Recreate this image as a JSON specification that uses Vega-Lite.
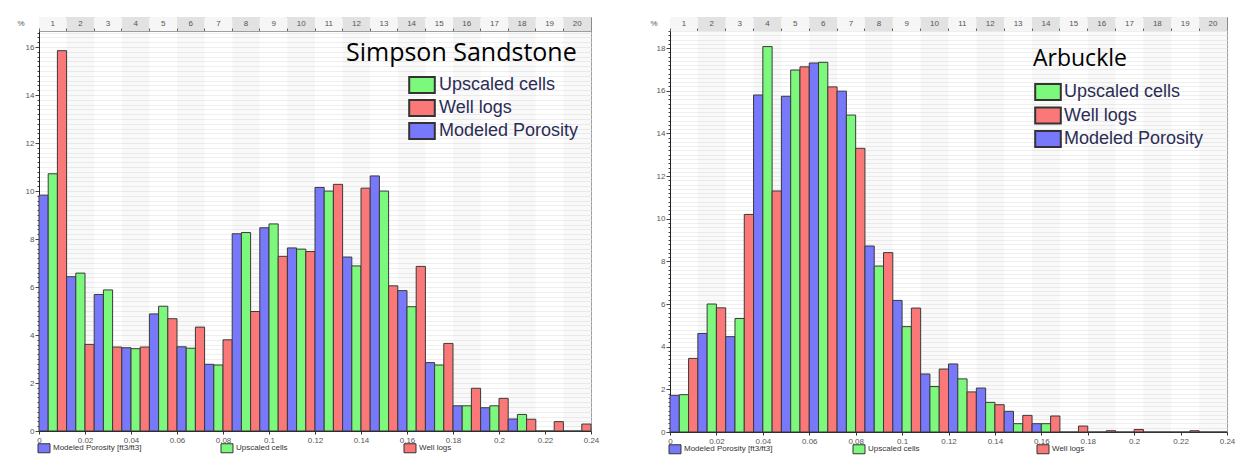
{
  "$schema": "https://vega.github.io/schema/vega-lite/v6.json",
  "padding": {"left": 16, "top": 16, "right": 0, "bottom": 0},
  "config": {"font": "Liberation Sans", "view": {"stroke": null}},
  "datasets": {
    "bins": [
      {"bin": 1, "lo": 0, "hi": 0.012}, {"bin": 2, "lo": 0.012, "hi": 0.024}, {"bin": 3, "lo": 0.024, "hi": 0.036},
      {"bin": 4, "lo": 0.036, "hi": 0.048}, {"bin": 5, "lo": 0.048, "hi": 0.06}, {"bin": 6, "lo": 0.06, "hi": 0.072},
      {"bin": 7, "lo": 0.072, "hi": 0.084}, {"bin": 8, "lo": 0.084, "hi": 0.096}, {"bin": 9, "lo": 0.096, "hi": 0.108},
      {"bin": 10, "lo": 0.108, "hi": 0.12}, {"bin": 11, "lo": 0.12, "hi": 0.132}, {"bin": 12, "lo": 0.132, "hi": 0.144},
      {"bin": 13, "lo": 0.144, "hi": 0.156}, {"bin": 14, "lo": 0.156, "hi": 0.168}, {"bin": 15, "lo": 0.168, "hi": 0.18},
      {"bin": 16, "lo": 0.18, "hi": 0.192}, {"bin": 17, "lo": 0.192, "hi": 0.204}, {"bin": 18, "lo": 0.204, "hi": 0.216},
      {"bin": 19, "lo": 0.216, "hi": 0.228}, {"bin": 20, "lo": 0.228, "hi": 0.24}
    ],
    "simpson": [
      {"bin": 1, "series": "Modeled Porosity", "value": 9.83}, {"bin": 1, "series": "Upscaled cells", "value": 10.72}, {"bin": 1, "series": "Well logs", "value": 15.85},
      {"bin": 2, "series": "Modeled Porosity", "value": 6.43}, {"bin": 2, "series": "Upscaled cells", "value": 6.58}, {"bin": 2, "series": "Well logs", "value": 3.61},
      {"bin": 3, "series": "Modeled Porosity", "value": 5.69}, {"bin": 3, "series": "Upscaled cells", "value": 5.88}, {"bin": 3, "series": "Well logs", "value": 3.5},
      {"bin": 4, "series": "Modeled Porosity", "value": 3.47}, {"bin": 4, "series": "Upscaled cells", "value": 3.43}, {"bin": 4, "series": "Well logs", "value": 3.5},
      {"bin": 5, "series": "Modeled Porosity", "value": 4.88}, {"bin": 5, "series": "Upscaled cells", "value": 5.2}, {"bin": 5, "series": "Well logs", "value": 4.68},
      {"bin": 6, "series": "Modeled Porosity", "value": 3.51}, {"bin": 6, "series": "Upscaled cells", "value": 3.45}, {"bin": 6, "series": "Well logs", "value": 4.33},
      {"bin": 7, "series": "Modeled Porosity", "value": 2.78}, {"bin": 7, "series": "Upscaled cells", "value": 2.75}, {"bin": 7, "series": "Well logs", "value": 3.8},
      {"bin": 8, "series": "Modeled Porosity", "value": 8.22}, {"bin": 8, "series": "Upscaled cells", "value": 8.27}, {"bin": 8, "series": "Well logs", "value": 4.98},
      {"bin": 9, "series": "Modeled Porosity", "value": 8.47}, {"bin": 9, "series": "Upscaled cells", "value": 8.63}, {"bin": 9, "series": "Well logs", "value": 7.28},
      {"bin": 10, "series": "Modeled Porosity", "value": 7.63}, {"bin": 10, "series": "Upscaled cells", "value": 7.58}, {"bin": 10, "series": "Well logs", "value": 7.48},
      {"bin": 11, "series": "Modeled Porosity", "value": 10.15}, {"bin": 11, "series": "Upscaled cells", "value": 10.0}, {"bin": 11, "series": "Well logs", "value": 10.28},
      {"bin": 12, "series": "Modeled Porosity", "value": 7.25}, {"bin": 12, "series": "Upscaled cells", "value": 6.88}, {"bin": 12, "series": "Well logs", "value": 10.12},
      {"bin": 13, "series": "Modeled Porosity", "value": 10.63}, {"bin": 13, "series": "Upscaled cells", "value": 10.0}, {"bin": 13, "series": "Well logs", "value": 6.05},
      {"bin": 14, "series": "Modeled Porosity", "value": 5.85}, {"bin": 14, "series": "Upscaled cells", "value": 5.18}, {"bin": 14, "series": "Well logs", "value": 6.86},
      {"bin": 15, "series": "Modeled Porosity", "value": 2.85}, {"bin": 15, "series": "Upscaled cells", "value": 2.75}, {"bin": 15, "series": "Well logs", "value": 3.65},
      {"bin": 16, "series": "Modeled Porosity", "value": 1.05}, {"bin": 16, "series": "Upscaled cells", "value": 1.05}, {"bin": 16, "series": "Well logs", "value": 1.78},
      {"bin": 17, "series": "Modeled Porosity", "value": 0.97}, {"bin": 17, "series": "Upscaled cells", "value": 1.05}, {"bin": 17, "series": "Well logs", "value": 1.36},
      {"bin": 18, "series": "Modeled Porosity", "value": 0.5}, {"bin": 18, "series": "Upscaled cells", "value": 0.69}, {"bin": 18, "series": "Well logs", "value": 0.49},
      {"bin": 19, "series": "Modeled Porosity", "value": 0}, {"bin": 19, "series": "Upscaled cells", "value": 0}, {"bin": 19, "series": "Well logs", "value": 0.39},
      {"bin": 20, "series": "Modeled Porosity", "value": 0}, {"bin": 20, "series": "Upscaled cells", "value": 0}, {"bin": 20, "series": "Well logs", "value": 0.29}
    ],
    "arbuckle": [
      {"bin": 1, "series": "Modeled Porosity", "value": 1.72}, {"bin": 1, "series": "Upscaled cells", "value": 1.75}, {"bin": 1, "series": "Well logs", "value": 3.45},
      {"bin": 2, "series": "Modeled Porosity", "value": 4.62}, {"bin": 2, "series": "Upscaled cells", "value": 6.0}, {"bin": 2, "series": "Well logs", "value": 5.82},
      {"bin": 3, "series": "Modeled Porosity", "value": 4.47}, {"bin": 3, "series": "Upscaled cells", "value": 5.32}, {"bin": 3, "series": "Well logs", "value": 10.2},
      {"bin": 4, "series": "Modeled Porosity", "value": 15.8}, {"bin": 4, "series": "Upscaled cells", "value": 18.07}, {"bin": 4, "series": "Well logs", "value": 11.3},
      {"bin": 5, "series": "Modeled Porosity", "value": 15.74}, {"bin": 5, "series": "Upscaled cells", "value": 16.97}, {"bin": 5, "series": "Well logs", "value": 17.12},
      {"bin": 6, "series": "Modeled Porosity", "value": 17.3}, {"bin": 6, "series": "Upscaled cells", "value": 17.33}, {"bin": 6, "series": "Well logs", "value": 16.18},
      {"bin": 7, "series": "Modeled Porosity", "value": 15.98}, {"bin": 7, "series": "Upscaled cells", "value": 14.86}, {"bin": 7, "series": "Well logs", "value": 13.3},
      {"bin": 8, "series": "Modeled Porosity", "value": 8.72}, {"bin": 8, "series": "Upscaled cells", "value": 7.78}, {"bin": 8, "series": "Well logs", "value": 8.41},
      {"bin": 9, "series": "Modeled Porosity", "value": 6.17}, {"bin": 9, "series": "Upscaled cells", "value": 4.94}, {"bin": 9, "series": "Well logs", "value": 5.81},
      {"bin": 10, "series": "Modeled Porosity", "value": 2.72}, {"bin": 10, "series": "Upscaled cells", "value": 2.13}, {"bin": 10, "series": "Well logs", "value": 2.95},
      {"bin": 11, "series": "Modeled Porosity", "value": 3.19}, {"bin": 11, "series": "Upscaled cells", "value": 2.49}, {"bin": 11, "series": "Well logs", "value": 1.88},
      {"bin": 12, "series": "Modeled Porosity", "value": 2.06}, {"bin": 12, "series": "Upscaled cells", "value": 1.39}, {"bin": 12, "series": "Well logs", "value": 1.28},
      {"bin": 13, "series": "Modeled Porosity", "value": 0.97}, {"bin": 13, "series": "Upscaled cells", "value": 0.39}, {"bin": 13, "series": "Well logs", "value": 0.78},
      {"bin": 14, "series": "Modeled Porosity", "value": 0.39}, {"bin": 14, "series": "Upscaled cells", "value": 0.39}, {"bin": 14, "series": "Well logs", "value": 0.75},
      {"bin": 15, "series": "Modeled Porosity", "value": 0}, {"bin": 15, "series": "Upscaled cells", "value": 0}, {"bin": 15, "series": "Well logs", "value": 0.28},
      {"bin": 16, "series": "Modeled Porosity", "value": 0}, {"bin": 16, "series": "Upscaled cells", "value": 0}, {"bin": 16, "series": "Well logs", "value": 0.06},
      {"bin": 17, "series": "Modeled Porosity", "value": 0}, {"bin": 17, "series": "Upscaled cells", "value": 0}, {"bin": 17, "series": "Well logs", "value": 0.12},
      {"bin": 18, "series": "Modeled Porosity", "value": 0}, {"bin": 18, "series": "Upscaled cells", "value": 0}, {"bin": 18, "series": "Well logs", "value": 0},
      {"bin": 19, "series": "Modeled Porosity", "value": 0}, {"bin": 19, "series": "Upscaled cells", "value": 0}, {"bin": 19, "series": "Well logs", "value": 0.06},
      {"bin": 20, "series": "Modeled Porosity", "value": 0}, {"bin": 20, "series": "Upscaled cells", "value": 0}, {"bin": 20, "series": "Well logs", "value": 0}
    ]
  },
  "hconcat": [
    {
      "vconcat": [
        {
          "width": 552, "height": 14,
          "data": {"name": "bins"},
          "view": {"stroke": "#8a8a8a"},
          "layer": [
            {"mark": {"type": "rect"},
             "encoding": {
               "x": {"field": "bin", "type": "ordinal", "scale": {"paddingInner": 0, "paddingOuter": 0},
                     "axis": {"labels": false, "title": null, "domainColor": "#666", "tickColor": "#666", "tickSize": -3, "bandPosition": 0}},
               "fill": {"condition": {"test": "datum.bin % 2 == 0", "value": "#e2e2e2"}, "value": "#f6f6f6"}}},
            {"mark": {"type": "text", "fontSize": 8, "color": "#555"},
             "encoding": {"x": {"field": "bin", "type": "ordinal"}, "text": {"field": "bin"}}}
          ]
        },
        {
          "width": 552, "height": 400,
          "view": {"stroke": "#a0a0a0"},
          "resolve": {"scale": {"x": "independent", "color": "independent"}, "axis": {"x": "independent"}, "legend": {"color": "independent"}},
          "layer": [
            {"data": {"name": "bins"},
             "mark": {"type": "rect", "color": "#000000"},
             "encoding": {
               "x": {"field": "lo", "type": "quantitative", "scale": {"domain": [0, 0.24], "nice": false, "zero": false},
                     "axis": {"values": [0, 0.02, 0.04, 0.06, 0.08, 0.1, 0.12, 0.14, 0.16, 0.18, 0.2, 0.22, 0.24], "format": ".2~f", "title": null,
                              "labelFontSize": 8, "labelColor": "#555", "tickSize": 3, "tickColor": "#333", "domainColor": "#222", "grid": false,
                              "labelFlush": false, "labelOverlap": false, "labelPadding": 2}},
               "x2": {"field": "hi"},
               "opacity": {"condition": {"test": "datum.bin % 2 == 0", "value": 0.025}, "value": 0}}},
            {"data": {"name": "simpson"},
             "mark": {"type": "bar", "stroke": "#3a3a3a", "strokeWidth": 1},
             "encoding": {
               "x": {"field": "bin", "type": "ordinal", "scale": {"paddingInner": 0, "paddingOuter": 0}, "axis": null},
               "xOffset": {"field": "series", "type": "nominal", "scale": {"domain": ["Modeled Porosity", "Upscaled cells", "Well logs"], "paddingInner": 0, "paddingOuter": 0}},
               "y": {"field": "value", "type": "quantitative", "scale": {"domain": [0, 16.67], "nice": false},
                     "axis": {"title": "%", "titleAngle": 0, "titleX": -22, "titleY": -8, "titleAlign": "left", "titleBaseline": "middle", "titleFontSize": 8, "titleFontWeight": "normal", "titleColor": "#555",
                              "tickCount": 80, "grid": true, "gridColor": "#efefef", "labelExpr": "datum.value % 2 == 0 ? '' + datum.value : ''",
                              "tickSize": {"condition": {"test": "datum.value % 2 == 0", "value": 4}, "value": 2},
                              "labelOverlap": false, "labelFlush": false, "domainColor": "#222", "tickColor": "#444", "labelFontSize": 8, "labelColor": "#555", "labelPadding": 1}},
               "color": {"field": "series", "type": "nominal",
                         "scale": {"domain": ["Modeled Porosity", "Upscaled cells", "Well logs"], "range": ["#7878fa", "#7cf87c", "#fa7878"]},
                         "legend": {"orient": "none", "legendX": 0, "legendY": 412, "direction": "horizontal", "columns": 3, "gridAlign": "all", "columnPadding": 77,
                                    "title": null, "labelFontSize": 8, "labelColor": "#333", "symbolType": "M-1.33,-1H1.33V1H-1.33Z", "symbolSize": 81,
                                    "symbolStrokeColor": "#333", "symbolStrokeWidth": 1, "padding": 0, "labelOffset": 4,
                                    "labelExpr": "datum.label == 'Modeled Porosity' ? 'Modeled Porosity [ft3/ft3]' : datum.label"}}}},
            {"data": {"name": "simpson"},
             "mark": {"type": "bar", "opacity": 0},
             "encoding": {
               "x": {"field": "bin", "type": "ordinal", "scale": {"paddingInner": 0, "paddingOuter": 0}, "axis": null},
               "xOffset": {"field": "series", "type": "nominal", "scale": {"domain": ["Modeled Porosity", "Upscaled cells", "Well logs"], "paddingInner": 0, "paddingOuter": 0}},
               "y": {"field": "value", "type": "quantitative"},
               "color": {"field": "series", "type": "nominal",
                         "scale": {"domain": ["Upscaled cells", "Well logs", "Modeled Porosity"], "range": ["#7cf87c", "#fa7878", "#7878fa"]},
                         "legend": {"orient": "none", "legendX": 307, "legendY": 10, "title": "Simpson Sandstone", "titleFont": "Open Sans", "titleFontSize": 25,
                                    "titleFontWeight": "normal", "titleColor": "#000", "titleLimit": 400, "titlePadding": 10,
                                    "labelFont": "Liberation Sans", "labelFontSize": 18, "labelColor": "#2b2d55", "labelLimit": 300,
                                    "symbolType": "M-1.6,-1H1.6V1H-1.6Z", "symbolSize": 256, "symbolStrokeColor": "#333", "symbolStrokeWidth": 2,
                                    "symbolOffset": 67, "labelOffset": 8, "rowPadding": -1, "padding": 0, "symbolOpacity": 1}}}}
          ]
        }
      ],
      "spacing": 0,
      "bounds": "flush",
      "resolve": {"scale": {"x": "independent", "y": "independent"}}
    },
    {
      "vconcat": [
        {
          "width": 557, "height": 14,
          "data": {"name": "bins"},
          "view": {"stroke": "#8a8a8a"},
          "layer": [
            {"mark": {"type": "rect"},
             "encoding": {
               "x": {"field": "bin", "type": "ordinal", "scale": {"paddingInner": 0, "paddingOuter": 0},
                     "axis": {"labels": false, "title": null, "domainColor": "#666", "tickColor": "#666", "tickSize": -3, "bandPosition": 0}},
               "fill": {"condition": {"test": "datum.bin % 2 == 0", "value": "#e2e2e2"}, "value": "#f6f6f6"}}},
            {"mark": {"type": "text", "fontSize": 8, "color": "#555"},
             "encoding": {"x": {"field": "bin", "type": "ordinal"}, "text": {"field": "bin"}}}
          ]
        },
        {
          "width": 557, "height": 401,
          "view": {"stroke": "#a0a0a0"},
          "resolve": {"scale": {"x": "independent", "color": "independent"}, "axis": {"x": "independent"}, "legend": {"color": "independent"}},
          "layer": [
            {"data": {"name": "bins"},
             "mark": {"type": "rect", "color": "#000000"},
             "encoding": {
               "x": {"field": "lo", "type": "quantitative", "scale": {"domain": [0, 0.24], "nice": false, "zero": false},
                     "axis": {"values": [0, 0.02, 0.04, 0.06, 0.08, 0.1, 0.12, 0.14, 0.16, 0.18, 0.2, 0.22, 0.24], "format": ".2~f", "title": null,
                              "labelFontSize": 8, "labelColor": "#555", "tickSize": 3, "tickColor": "#333", "domainColor": "#222", "grid": false,
                              "labelFlush": false, "labelOverlap": false, "labelPadding": 2}},
               "x2": {"field": "hi"},
               "opacity": {"condition": {"test": "datum.bin % 2 == 0", "value": 0.025}, "value": 0}}},
            {"data": {"name": "arbuckle"},
             "mark": {"type": "bar", "stroke": "#3a3a3a", "strokeWidth": 1},
             "encoding": {
               "x": {"field": "bin", "type": "ordinal", "scale": {"paddingInner": 0, "paddingOuter": 0}, "axis": null},
               "xOffset": {"field": "series", "type": "nominal", "scale": {"domain": ["Modeled Porosity", "Upscaled cells", "Well logs"], "paddingInner": 0, "paddingOuter": 0}},
               "y": {"field": "value", "type": "quantitative", "scale": {"domain": [0, 18.8], "nice": false},
                     "axis": {"title": "%", "titleAngle": 0, "titleX": -20, "titleY": -8, "titleAlign": "left", "titleBaseline": "middle", "titleFontSize": 8, "titleFontWeight": "normal", "titleColor": "#555",
                              "tickCount": 80, "grid": true, "gridColor": "#efefef", "labelExpr": "datum.value % 2 == 0 ? '' + datum.value : ''",
                              "tickSize": {"condition": {"test": "datum.value % 2 == 0", "value": 4}, "value": 2},
                              "labelOverlap": false, "labelFlush": false, "domainColor": "#222", "tickColor": "#444", "labelFontSize": 8, "labelColor": "#555", "labelPadding": 1}},
               "color": {"field": "series", "type": "nominal",
                         "scale": {"domain": ["Modeled Porosity", "Upscaled cells", "Well logs"], "range": ["#7878fa", "#7cf87c", "#fa7878"]},
                         "legend": {"orient": "none", "legendX": 0, "legendY": 413, "direction": "horizontal", "columns": 3, "gridAlign": "all", "columnPadding": 78,
                                    "title": null, "labelFontSize": 8, "labelColor": "#333", "symbolType": "M-1.33,-1H1.33V1H-1.33Z", "symbolSize": 81,
                                    "symbolStrokeColor": "#333", "symbolStrokeWidth": 1, "padding": 0, "labelOffset": 4,
                                    "labelExpr": "datum.label == 'Modeled Porosity' ? 'Modeled Porosity [ft3/ft3]' : datum.label"}}}},
            {"data": {"name": "arbuckle"},
             "mark": {"type": "bar", "opacity": 0},
             "encoding": {
               "x": {"field": "bin", "type": "ordinal", "scale": {"paddingInner": 0, "paddingOuter": 0}, "axis": null},
               "xOffset": {"field": "series", "type": "nominal", "scale": {"domain": ["Modeled Porosity", "Upscaled cells", "Well logs"], "paddingInner": 0, "paddingOuter": 0}},
               "y": {"field": "value", "type": "quantitative"},
               "color": {"field": "series", "type": "nominal",
                         "scale": {"domain": ["Upscaled cells", "Well logs", "Modeled Porosity"], "range": ["#7cf87c", "#fa7878", "#7878fa"]},
                         "legend": {"orient": "none", "legendX": 363, "legendY": 17, "title": "Arbuckle", "titleFont": "Open Sans", "titleFontSize": 23,
                                    "titleFontWeight": "normal", "titleColor": "#000", "titleLimit": 400, "titlePadding": 12,
                                    "labelFont": "Liberation Sans", "labelFontSize": 18, "labelColor": "#2b2d55", "labelLimit": 300,
                                    "symbolType": "M-1.6,-1H1.6V1H-1.6Z", "symbolSize": 256, "symbolStrokeColor": "#333", "symbolStrokeWidth": 2,
                                    "symbolOffset": 6, "labelOffset": 7, "rowPadding": -0.5, "padding": 0, "symbolOpacity": 1}}}}
          ]
        }
      ],
      "spacing": 0,
      "bounds": "flush",
      "resolve": {"scale": {"x": "independent", "y": "independent"}}
    }
  ],
  "spacing": 49,
  "resolve": {"scale": {"x": "independent", "y": "independent", "color": "independent", "xOffset": "independent"}, "legend": {"color": "independent"}}
}
